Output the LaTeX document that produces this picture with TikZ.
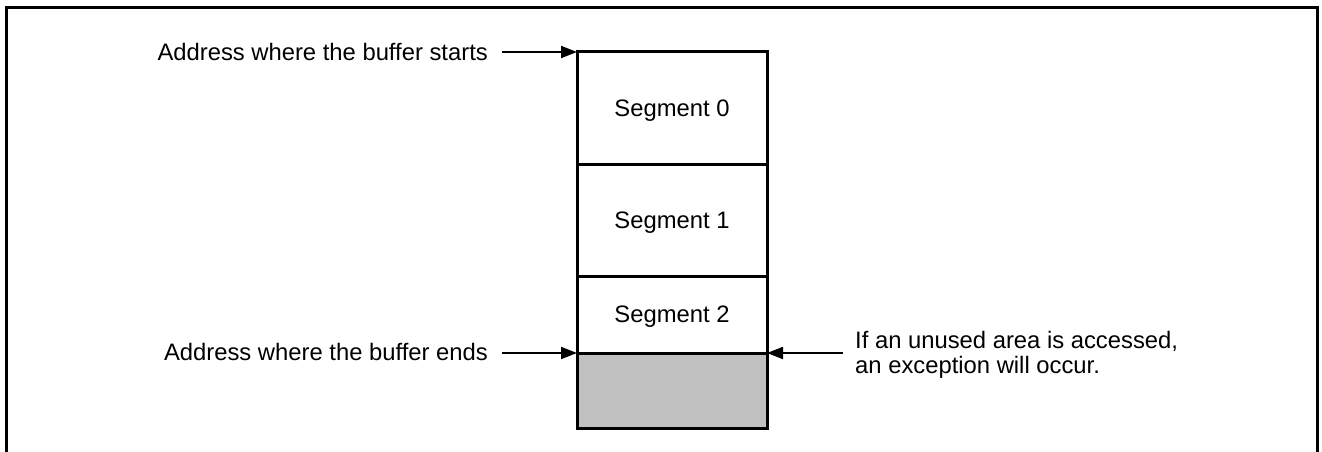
\documentclass[tikz,border=0pt]{standalone}
\usepackage{fontspec}
\setmainfont{Liberation Sans}
\usetikzlibrary{arrows.meta,calc}
\begin{document}
\begin{tikzpicture}[x=1pt,y=-1pt,
  seg/.style={draw, line width=3pt, minimum width=190pt, inner sep=0pt, outer sep=0pt,
    text depth=0pt, font=\fontsize{23.8}{26}\selectfont, anchor=north west},
  lbl/.style={inner sep=0pt, font=\fontsize{23.8}{25}\selectfont},
  arr/.style={line width=1.8pt, -{Triangle[length=16pt,width=12pt]}}]
\useasboundingbox (0,0) rectangle (1322,452);
% frame
\draw[line width=3pt] (6,460) -- (6,8) -- (1317,8) -- (1317,460);
% segments
\node[seg, minimum height=112pt] (seg0) at (577,52) {Segment 0};
\node[seg, minimum height=112pt] (seg1) at (577,164) {Segment 1};
\node[seg, minimum height=77pt] (seg2) at (577,276) {Segment 2};
\node[seg, minimum height=75pt, fill={rgb,255:red,192;green,192;blue,192}] (unused) at (577,353) {};
% labels
\node[lbl, anchor=east] (startlbl) at (488,51.5) {Address where the buffer starts};
\node[lbl, anchor=east] (endlbl) at (488,351.5) {Address where the buffer ends};
\node[lbl, anchor=base west, align=left] (exc) at (855,373) {If an unused area is accessed,\\an exception will occur.};
% arrows
\draw[arr] ($(startlbl.east)+(14,0.5)$) -- (seg0.north west);
\draw[arr] ($(endlbl.east)+(14,1.5)$) -- (unused.north west);
\draw[arr] ($(exc.west |- unused.north east)+(-12,0)$) -- (unused.north east);
\end{tikzpicture}
\end{document}
